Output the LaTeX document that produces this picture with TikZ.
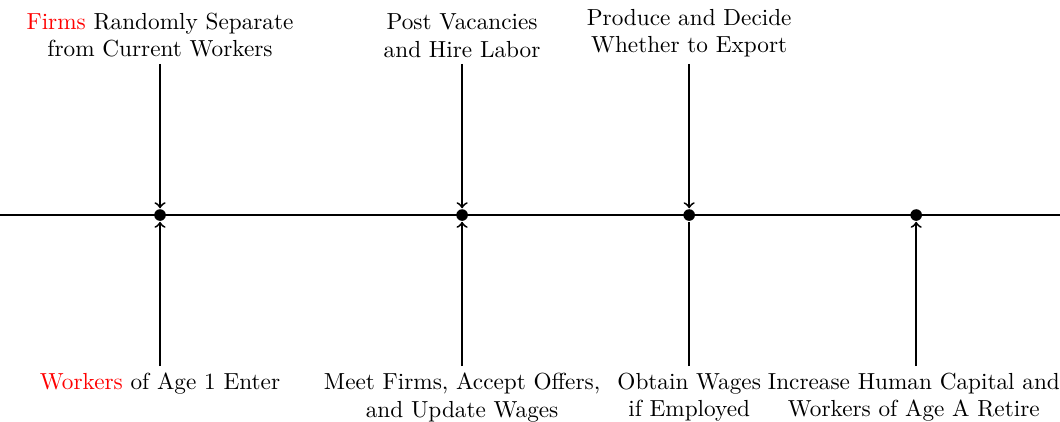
\documentclass[tikz,border=0pt]{standalone}
\usepackage{xcolor}
\usetikzlibrary{positioning}
\begin{document}
\begin{tikzpicture}[thick, >=to,
    event/.style={circle, fill, inner sep=0pt, minimum size=5pt},
    stage/.style={align=center, inner sep=2.4pt}]

    % Length of the vertical markers
    \def\H{2.285}

    % Fix the frame of the picture
    \useasboundingbox (0,-3.116) rectangle (16.03,3.252);

    % Time axis
    \coordinate (L) at (0,0);
    \coordinate (R) at (16.03,0);
    \draw (L) -- (R);

    % Points in the period
    \node[event] (e1) at (2.420,0) {};
    \node[event] (e2) at (6.988,0) {};
    \node[event] (e3) at (10.422,0) {};
    \node[event] (e4) at (13.855,0) {};

    % Ends of the markers above and below the axis
    \coordinate (u1) at (2.420,\H);
    \coordinate (u2) at (6.988,\H);
    \coordinate (u3) at (10.422,\H);
    \coordinate (d1) at (2.420,-\H);
    \coordinate (d2) at (6.988,-\H);
    \coordinate (d3) at (10.422,-\H);
    \coordinate (d4) at (13.855,-\H);

    % Markers
    \draw[->] (u1) -- (e1);
    \draw[->] (u2) -- (e2);
    \draw[->] (u3) -- (e3);
    \draw[->] (d1) -- (e1);
    \draw[->] (d2) -- (e2);
    \draw (d3) -- (e3);
    \draw[->] (d4) -- (e4);

    % What happens above the axis
    \node[stage, above] (s1) at (u1) {\textcolor{red}{Firms} Randomly Separate\\from Current Workers};
    \node[stage, above] (s2) at (u2) {Post Vacancies\\and Hire Labor};
    \node[stage, above] (s3) at (u3) {Produce and Decide\\Whether to Export};

    % What happens below the axis
    \node[stage, below] (b1) at (d1) {\textcolor{red}{Workers} of Age 1 Enter};
    \node[stage, below] (b2) at (d2) {Meet Firms, Accept Offers,\\and Update Wages};
    \node[stage, below] (b3) at (d3) {Obtain Wages\\if Employed};
    \node[stage, below, xshift=-1pt] (b4) at (d4) {Increase Human Capital and\\Workers of Age A Retire};

\end{tikzpicture}
\end{document}
